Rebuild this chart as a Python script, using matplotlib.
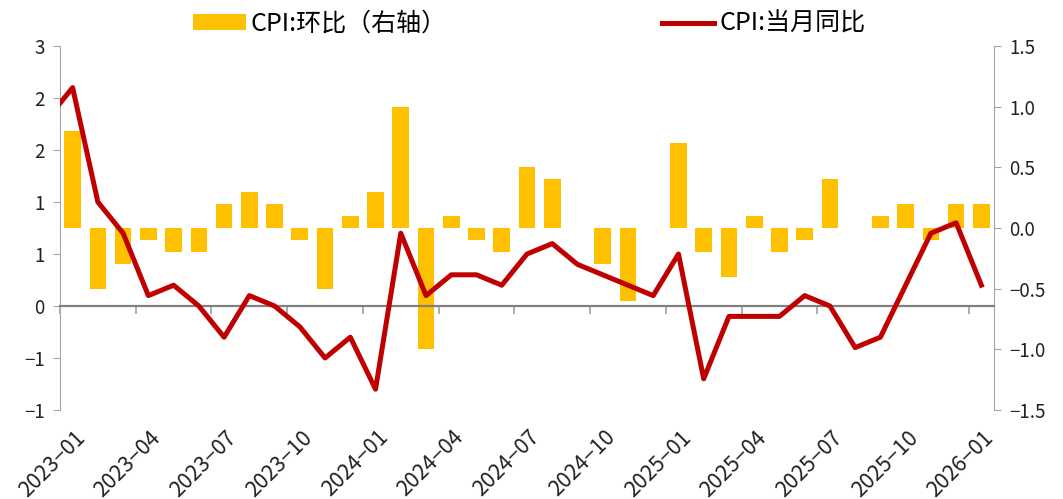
import matplotlib
matplotlib.use("Agg")
import matplotlib.pyplot as plt
import numpy as np
from matplotlib.patches import Patch
from matplotlib.lines import Line2D

plt.rcParams['font.family'] = ['Noto Sans CJK SC', 'DejaVu Sans']

# monthly data, 2022-12 .. 2026-01 (2022-12 only feeds the clipped line start)
months = ['2022-12',
          '2023-01', '2023-02', '2023-03', '2023-04', '2023-05', '2023-06',
          '2023-07', '2023-08', '2023-09', '2023-10', '2023-11', '2023-12',
          '2024-01', '2024-02', '2024-03', '2024-04', '2024-05', '2024-06',
          '2024-07', '2024-08', '2024-09', '2024-10', '2024-11', '2024-12',
          '2025-01', '2025-02', '2025-03', '2025-04', '2025-05', '2025-06',
          '2025-07', '2025-08', '2025-09', '2025-10', '2025-11', '2025-12',
          '2026-01']
cpi_yoy = [1.8,
           2.1, 1.0, 0.7, 0.1, 0.2, 0.0, -0.3, 0.1, 0.0, -0.2, -0.5, -0.3,
           -0.8, 0.7, 0.1, 0.3, 0.3, 0.2, 0.5, 0.6, 0.4, 0.3, 0.2, 0.1,
           0.5, -0.7, -0.1, -0.1, -0.1, 0.1, 0.0, -0.4, -0.3, 0.2, 0.7, 0.8,
           0.2]
cpi_mom = [0.0,
           0.8, -0.5, -0.3, -0.1, -0.2, -0.2, 0.2, 0.3, 0.2, -0.1, -0.5, 0.1,
           0.3, 1.0, -1.0, 0.1, -0.1, -0.2, 0.5, 0.4, 0.0, -0.3, -0.6, 0.0,
           0.7, -0.2, -0.4, 0.1, -0.2, -0.1, 0.4, 0.0, 0.1, 0.2, -0.1, 0.2,
           0.2]
tick_months = ['2023-01', '2023-04', '2023-07', '2023-10', '2024-01', '2024-04',
               '2024-07', '2024-10', '2025-01', '2025-04', '2025-07', '2025-10',
               '2026-01']
left_ticks = [-1, -0.5, 0, 0.5, 1, 1.5, 2, 2.5]
left_labels = ['\u22121', '\u22121', '0', '1', '1', '2', '2', '3']
right_ticks = [-1.5, -1.0, -0.5, 0.0, 0.5, 1.0, 1.5]
right_labels = ['\u22121.5', '\u22121.0', '\u22120.5', '0.0', '0.5', '1.0', '1.5']

W, H = 1063, 499
fig = plt.figure(figsize=(W / 100, H / 100), dpi=100)
ax = fig.add_axes([60 / W, 1 - 410 / H, (994 - 60) / W, (410 - 46) / H])
ax2 = ax.twinx()
ax.set_zorder(ax2.get_zorder() + 1)
ax.patch.set_visible(False)

pos = np.arange(len(months)) - 1  # 2023-01 -> 0

ax2.bar(pos, cpi_mom, width=0.66, color='#FFC000', zorder=2)
ax.plot(pos, cpi_yoy, color='#C00000', lw=3.6, zorder=3)

ax.set_xlim(-0.5, 36.5)
ax.set_ylim(-1, 2.5)
ax2.set_ylim(-1.5, 1.5)

ax.spines['top'].set_visible(False)
ax.spines['right'].set_visible(False)
ax.spines['left'].set_color('#a6a6a6')
ax.spines['bottom'].set_position(('data', 0))
ax.spines['bottom'].set_color('#808080')
ax.spines['bottom'].set_linewidth(1.6)
for s in ['top', 'left', 'bottom']:
    ax2.spines[s].set_visible(False)
ax2.spines['right'].set_color('#a6a6a6')

tick_pos = [months.index(m) - 1 - 0.5 for m in tick_months]
ax.set_xticks(tick_pos)
ax.tick_params(axis='x', direction='out', length=6, width=1.3, color='#a6a6a6',
               labelbottom=False)
ax.set_yticks(left_ticks)
ax.set_yticklabels(left_labels)
ax.tick_params(axis='y', direction='out', length=5, color='#a6a6a6',
               labelsize=13.5, labelcolor='#222222', pad=6)
ax2.set_yticks(right_ticks)
ax2.set_yticklabels(right_labels)
ax2.tick_params(axis='y', direction='out', length=5, color='#a6a6a6',
                labelsize=13.5, labelcolor='#222222', pad=6)

for tp, lab in zip(tick_pos, tick_months):
    ax.text(tp + 0.55, -0.045, lab.replace('-', '\u2212'), rotation=45,
            ha='right', va='top', rotation_mode='anchor', fontsize=15.5,
            color='#222222', transform=ax.get_xaxis_transform(), clip_on=False)

handles = [Patch(facecolor='#FFC000', edgecolor='none'),
           Line2D([0], [0], color='#C00000', lw=3.6)]
labels = ['CPI:环比（右轴）', 'CPI:当月同比']
fig.legend(handles, labels, loc='center left', bbox_to_anchor=(193 / W, 1 - 24 / H),
           ncol=2, frameon=False, fontsize=18, handlelength=2.1, handleheight=0.6,
           handletextpad=0.2, columnspacing=8.6, borderpad=0, borderaxespad=0)

fig.savefig('out.png', dpi=100)
